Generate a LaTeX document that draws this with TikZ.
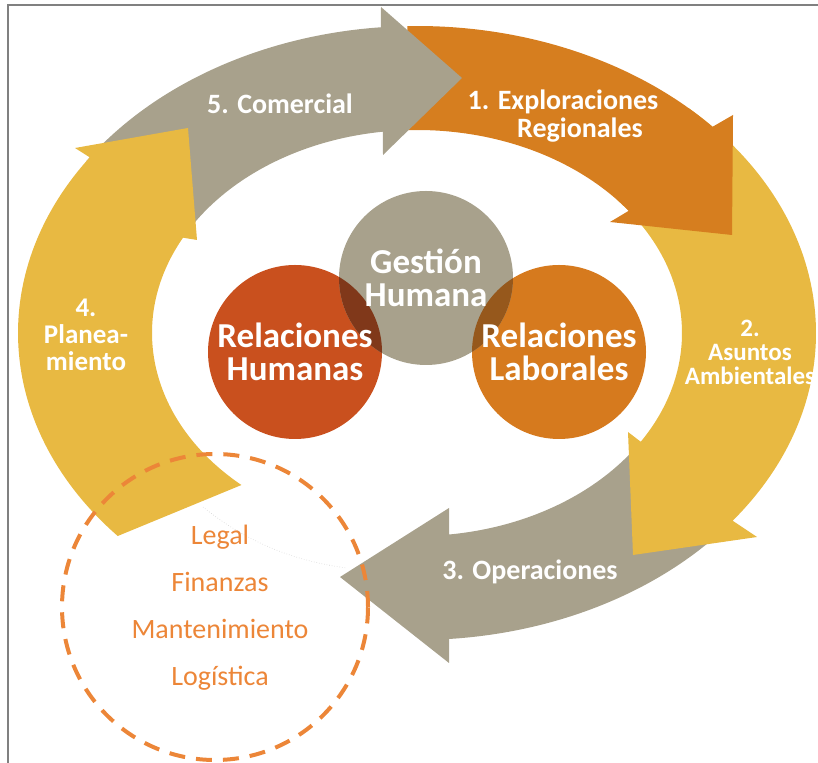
\documentclass[tikz,border=0pt]{standalone}
\usepackage{fontspec}
\setmainfont{Carlito}
\tikzset{
  lbl/.style    = {text=white, align=center, inner sep=0pt,
                   font=\bfseries\fontsize{28}{28}\selectfont},
  hub/.style    = {circle, minimum size=174pt, inner sep=0pt},
  hublbl/.style = {text=white, align=center, inner sep=0pt,
                   font=\bfseries\fontsize{35}{33}\selectfont},
  dept/.style   = {text=deptOrange, align=center, inner sep=0pt,
                   font=\fontsize{28}{47}\selectfont},
  outer/.style  = {x radius=399, y radius=307},
  inner/.style  = {x radius=265, y radius=203}
}
\definecolor{arrGray}{RGB}{168,161,140}
\definecolor{arrOrange}{RGB}{214,126,31}
\definecolor{arrYellow}{RGB}{232,185,66}
\definecolor{hubRed}{RGB}{201,80,30}
\definecolor{hubOrange}{RGB}{214,122,30}
\definecolor{ovlRed}{RGB}{128,56,26}
\definecolor{ovlOrange}{RGB}{150,88,28}
\definecolor{deptOrange}{RGB}{236,134,56}
\definecolor{frameGray}{RGB}{128,128,128}

\begin{document}
\begin{tikzpicture}[x=1pt, y=1pt]
  \useasboundingbox (0,0) rectangle (818,762);
  \draw[frameGray, line width=2] (8,-10) rectangle (830,757);

  % ring of five curved arrows, centre of the ellipses
  \begin{scope}[shift={(417,429)}]
    % 3. Operaciones
    \fill[arrGray] (-40:399 and 307) arc[start angle=-40, end angle=-85.4, outer]
      -- (32,-330) -- (-77,-244) -- (32,-175)
      -- (-83.06:265 and 203) arc[start angle=-83.06, end angle=-35, inner] -- cycle;
    % 2. Asuntos Ambientales
    \fill[arrYellow] (47:399 and 307) arc[start angle=47, end angle=-37.7, outer]
      -- (340,-204) -- (216,-222) -- (211,-99)
      -- (-32.4:265 and 203) arc[start angle=-32.4, end angle=41, inner] -- cycle;
    % 1. Exploraciones Regionales
    \fill[arrOrange] (91.4:399 and 307) arc[start angle=91.4, end angle=42.2, outer]
      -- (316,218) -- (315,98) -- (193,111)
      -- (37:265 and 203) arc[start angle=37, end angle=92.2, inner] -- cycle;
    % 5. Comercial
    \fill[arrGray] (146:399 and 307) arc[start angle=146, end angle=95.2, outer]
      -- (-36,326) -- (45,255) -- (-34,178)
      -- (97.4:265 and 203) arc[start angle=97.4, end angle=149, inner] -- cycle;
    % 4. Planeamiento
    \fill[arrYellow] (221.4:399 and 307) arc[start angle=221.4, end angle=145.1, outer]
      -- (-342,185) -- (-229,205) -- (-220,93)
      -- (152:265 and 203) arc[start angle=152, end angle=228.5, inner] -- cycle;
  \end{scope}

  \node[lbl] (comercial) at (280,658) {5. Comercial};
  \node[lbl] (explora) at (563,646) {1. Exploraciones\\\hspace*{34pt}Regionales};
  \node[lbl, font=\bfseries\fontsize{25}{24}\selectfont] (ambiente) at (750,410)
    {2.\\Asuntos\\Ambientales};
  \node[lbl] (opera) at (530,190) {3. Operaciones};
  \node[lbl, font=\bfseries\fontsize{27}{27}\selectfont] (planea) at (86,427)
    {4.\\Planea-\\miento};

  \draw[gray!35, dotted, line width=0.6] (203,255) .. controls (250,217) and (300,200) .. (347,194);

  % three overlapping circles
  \node[hub, fill=hubRed]    (relhum) at (295,410) {};
  \node[hub, fill=hubOrange] (rellab) at (559,410) {};
  \node[hub, fill=arrGray]   (gestion) at (426,484) {};
  \begin{scope}
    \clip (relhum.center) circle[radius=87];
    \fill[ovlRed] (gestion.center) circle[radius=87];
  \end{scope}
  \begin{scope}
    \clip (rellab.center) circle[radius=87];
    \fill[ovlOrange] (gestion.center) circle[radius=87];
  \end{scope}
  \node[hublbl] (gestionlbl) at (gestion) {Gestión\\Humana};
  \node[hublbl] (relhumlbl) at (relhum) {Relaciones\\Humanas};
  \node[hublbl] (rellablbl) at (rellab) {Relaciones\\Laborales};

  % support areas
  \node[circle, draw=deptOrange, line width=4, dash pattern=on 16pt off 11pt,
        minimum size=306pt, inner sep=0pt] (apoyo) at (215,155) {};
  \node[dept] (apoyolbl) at (220,154) {Legal\\Finanzas\\Mantenimiento\\Logística};
\end{tikzpicture}
\end{document}
